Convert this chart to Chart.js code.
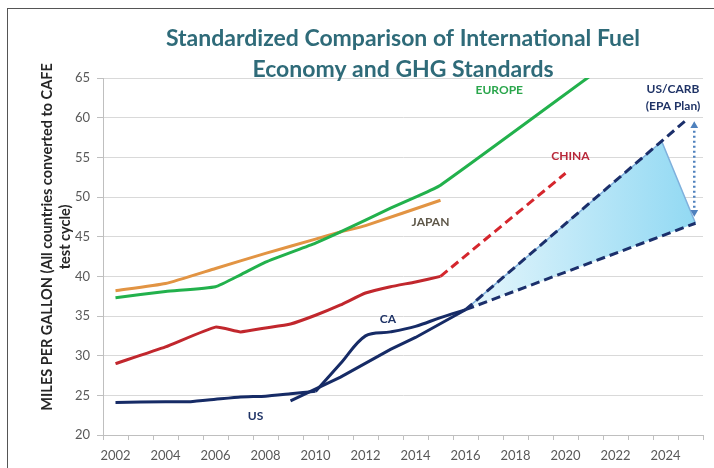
<!DOCTYPE html>
<html>
<head>
<meta charset="utf-8">
<script src="https://cdn.jsdelivr.net/npm/chart.js@4.4.1/dist/chart.umd.min.js"></script>
<style>
  html, body { margin: 0; padding: 0; background: #fff; }
  #wrap { position: relative; width: 714px; height: 468px; overflow: hidden; }
  #frame { position: absolute; left: 7px; top: 8px; width: 800px; height: 600px; border: 1.5px solid #555; }
  #chart_fuel { position: absolute; left: 0; top: 0; }
</style>
</head>
<body>
<div id="wrap"><div id="frame"></div><canvas id="chart_fuel" width="714" height="468"></canvas></div>
<script>
// model years 2002..2025, values in mpg (CAFE test cycle)
const years = [2002, 2003, 2004, 2005, 2006, 2007, 2008, 2009, 2010, 2011, 2012, 2013,
               2014, 2015, 2016, 2017, 2018, 2019, 2020, 2021, 2022, 2023, 2024, 2025];

const europe = [37.3, null, 38.1, null, 38.7, 40.2, 41.8, null, 44.2, 45.6, null, 48.6,
                50.0, 51.5, null, null, null, null, null, 65.3, null, null, null, null];
const japan = [38.2, null, 39.1, null, 41.0, null, 42.9, null, 44.7, 45.6, 46.4, null,
               null, 49.6, null, null, null, null, null, null, null, null, null, null];
const china = [29.0, null, 31.1, null, 33.6, 33.0, 33.5, 34.0, 35.1, 36.4, 37.9, 38.7,
               39.3, 40.0, null, null, null, null, null, null, null, null, null, null];
const chinaPlan = [null, null, null, null, null, null, null, null, null, null, null, null,
                   null, 40.0, null, null, null, null, 53.0, null, null, null, null, null];
const usFleet = [24.1, null, 24.2, 24.2, 24.5, 24.8, 24.9, 25.2, 25.5, null, null, null,
                 null, null, null, null, null, null, null, null, null, null, null, null];
const usStandard = [null, null, null, null, null, null, null, 24.3, null, 27.3, null, 30.8,
                    32.3, null, 35.8, null, null, null, null, null, null, null, null, null];
const california = [null, null, null, null, null, null, null, null, 25.5, 29.0, 32.5, 33.0,
                    33.7, 34.8, 35.8, null, null, null, null, null, null, null, null, null];

const carbHighX = [2016, 2024.9];
const carbHighY = [35.8, 59.9];
const carbLowX = [2016, 2025.2];
const carbLowY = [35.8, 46.7];
const carbBandX = [2016, 2023.85, 2025.2];
const carbBandY = [35.8, 57.0, 46.7];
const carbArrowX = [2025.15, 2025.15];
const carbArrowY = [59.0, 48.1];

const seriesLabels = [
    { text: 'EUROPE', x: 2017.35, y: 63.5, color: '#2aa64c' },
    { text: 'CHINA', x: 2020.2, y: 55.1, color: '#b8283a' },
    { text: 'JAPAN', x: 2014.6, y: 46.8, color: '#5f584a' },
    { text: 'CA', x: 2012.9, y: 34.6, color: '#1f3366' },
    { text: 'US', x: 2007.6, y: 22.4, color: '#1f3366' },
    { text: 'US/CARB', x: 2024.3, y: 63.6, color: '#1f3366' },
    { text: '(EPA Plan)', x: 2024.3, y: 61.5, color: '#1f3366' }
];

const yTitle = ['MILES PER GALLON (All countries converted to CAFE', 'test cycle)'];

function toPoints(vals) {
    return years.map((yr, i) => ({ x: yr, y: vals[i] })).filter(p => p.y !== null);
}
function zipPoints(xs, ys) {
    return xs.map((x, i) => ({ x: x, y: ys[i] }));
}

// x ticks: category edges (half years) carry tick marks, even years carry labels
const xTicks = years.flatMap(yr => [yr - 0.5, yr]).concat([years[years.length - 1] + 0.5]);

const seriesLabelPlugin = {
    id: 'seriesLabels',
    afterDatasetsDraw(chart) {
        const { ctx, scales } = chart;
        ctx.save();
        ctx.font = 'bold 12px Lato';
        ctx.textAlign = 'center';
        ctx.textBaseline = 'middle';
        seriesLabels.forEach(l => {
            ctx.fillStyle = l.color;
            ctx.fillText(l.text, scales.x.getPixelForValue(l.x), scales.y.getPixelForValue(l.y));
        });
        ctx.restore();
    }
};

// rotated y axis title, sits a little above the middle of the axis like the original
const yTitlePlugin = {
    id: 'yTitle',
    afterDraw(chart) {
        const { ctx, chartArea } = chart;
        const cy = chartArea.top + (chartArea.bottom - chartArea.top) * 0.445;
        ctx.save();
        ctx.font = 'bold 14.5px Lato';
        ctx.fillStyle = '#262626';
        ctx.textAlign = 'center';
        ctx.textBaseline = 'middle';
        yTitle.forEach((line, i) => {
            ctx.save();
            ctx.translate(47 + i * 18, cy);
            ctx.rotate(-Math.PI / 2);
            ctx.fillText(line, 0, 0);
            ctx.restore();
        });
        ctx.restore();
    }
};

function bandGradient(context) {
    const chart = context.chart;
    const { ctx, chartArea, scales } = chart;
    if (!chartArea) return 'rgba(150,220,245,0.6)';
    const x0 = scales.x.getPixelForValue(carbBandX[0]);
    const x1 = scales.x.getPixelForValue(carbBandX[carbBandX.length - 1]);
    const g = ctx.createLinearGradient(x0, 0, x1, 0);
    g.addColorStop(0, '#e6f6fc');
    g.addColorStop(1, '#92d9f3');
    return g;
}

const solid = { borderWidth: 3, pointRadius: 0, tension: 0.15, fill: false, order: 1 };
const dashed = { borderWidth: 3, pointRadius: 0, tension: 0, fill: false, borderDash: [9, 5], order: 1 };

new Chart(document.getElementById('chart_fuel'), {
    type: 'line',
    data: {
        datasets: [
            Object.assign({ label: 'Europe', borderColor: '#22b14c', data: toPoints(europe) }, solid),
            Object.assign({ label: 'Japan', borderColor: '#e29443', data: toPoints(japan) }, solid),
            Object.assign({ label: 'China', borderColor: '#c1272d', data: toPoints(china) }, solid),
            Object.assign({ label: 'China (plan)', borderColor: '#d5262d', data: toPoints(chinaPlan) }, dashed),
            Object.assign({ label: 'US', borderColor: '#162b66', data: toPoints(usFleet) }, solid),
            Object.assign({ label: 'US standard', borderColor: '#162b66', data: toPoints(usStandard) }, solid, { tension: 0 }),
            Object.assign({ label: 'CA', borderColor: '#162b66', data: toPoints(california) }, solid, { tension: 0.35 }),
            Object.assign({ label: 'US/CARB high', borderColor: '#1b2f6b', data: zipPoints(carbHighX, carbHighY) }, dashed),
            Object.assign({ label: 'US/CARB low', borderColor: '#1b2f6b', data: zipPoints(carbLowX, carbLowY) }, dashed),
            {
                label: 'US/CARB range', data: zipPoints(carbBandX, carbBandY),
                borderColor: '#7fb0dc', borderWidth: 1.5, pointRadius: 0, tension: 0,
                backgroundColor: bandGradient, fill: '-1', order: 5
            },
            {
                label: 'range arrow', data: zipPoints(carbArrowX, carbArrowY),
                borderColor: '#4f81bd', borderWidth: 2.5, borderDash: [2, 3], tension: 0, fill: false,
                pointStyle: 'triangle', pointRadius: 4.5, pointRotation: [0, 180],
                pointBackgroundColor: '#4f81bd', pointBorderWidth: 0, order: 0
            }
        ]
    },
    options: {
        responsive: false,
        animation: false,
        layout: { padding: { left: 0, right: 11, top: 0, bottom: 0 } },
        scales: {
            x: {
                type: 'linear',
                min: xTicks[0],
                max: xTicks[xTicks.length - 1],
                afterBuildTicks: scale => { scale.ticks = xTicks.map(v => ({ value: v })); },
                afterFit: scale => { scale.height = 33; },
                grid: {
                    drawOnChartArea: false,
                    tickLength: 5,
                    tickColor: ctx => (ctx.tick && Number.isInteger(ctx.tick.value)) ? 'rgba(0,0,0,0)' : '#bfbfbf'
                },
                border: { color: '#bfbfbf' },
                ticks: {
                    autoSkip: false,
                    maxRotation: 0,
                    minRotation: 0,
                    padding: 8,
                    color: '#595959',
                    font: { family: 'Lato', size: 13 },
                    callback: value => (Number.isInteger(value) && value % 2 === 0) ? String(value) : ''
                }
            },
            y: {
                min: 20,
                max: 65,
                afterFit: scale => { scale.width = 103; },
                ticks: { stepSize: 5, padding: 7, color: '#595959', font: { family: 'Lato', size: 13 } },
                grid: { color: '#d9d9d9', tickLength: 6, tickColor: '#bfbfbf' },
                border: { color: '#bfbfbf' }
            }
        },
        plugins: {
            legend: { display: false },
            tooltip: { enabled: false },
            title: {
                display: true,
                fullSize: false,
                text: ['Standardized Comparison of International Fuel', 'Economy and GHG Standards'],
                color: '#2f6b79',
                font: { family: 'Lato', size: 23, weight: 'bold', lineHeight: 1.35 },
                padding: { top: 23, bottom: -7 }
            }
        }
    },
    plugins: [seriesLabelPlugin, yTitlePlugin]
});
</script>
</body>
</html>
